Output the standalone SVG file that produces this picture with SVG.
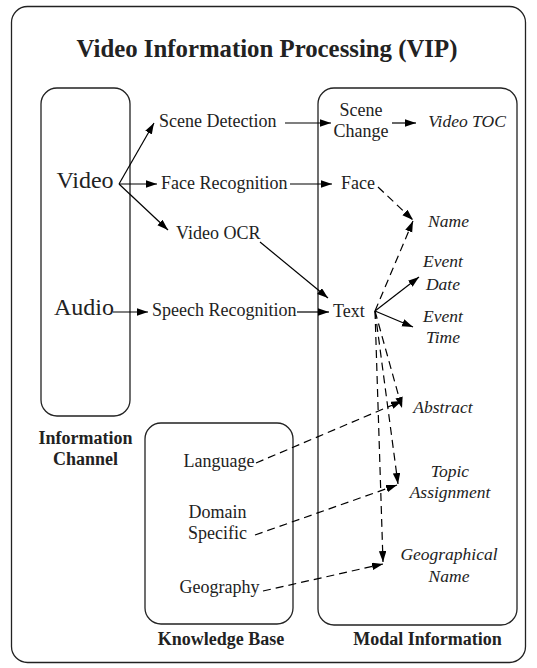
<svg xmlns="http://www.w3.org/2000/svg" width="537" height="668" viewBox="0 0 537 668">
<defs>
<marker id="ah" markerUnits="userSpaceOnUse" markerWidth="11" markerHeight="8" refX="11" refY="3.75" orient="auto">
<path d="M0,0 L11,3.75 L0,7.5 z" fill="#000"/>
</marker>
<style>
.box{fill:none;stroke:#222;stroke-width:1.3}
text{fill:#222;font-family:"Liberation Serif","Times New Roman",serif}
.n{font-size:18px}
.big{font-size:24px}
.it{font-size:17.5px;font-style:italic}
.b{font-size:18px;font-weight:bold}
.ttl{font-size:24.8px;font-weight:bold}
.c{text-anchor:middle}
.ln{fill:none;stroke:#000;stroke-width:1.2;marker-end:url(#ah)}
.d{stroke-dasharray:8 5}
</style>
</defs>
<rect class="box" x="11.5" y="6.5" width="514" height="656" rx="16"/>
<text class="ttl c" x="267" y="57">Video Information Processing (VIP)</text>

<g id="info-channel">
<rect class="box" x="41" y="88" width="89" height="328" rx="16"/>
<text class="b c" x="85.5" y="444">Information</text>
<text class="b c" x="85.5" y="465">Channel</text>
</g>
<g id="knowledge-base">
<rect class="box" x="145" y="423" width="148" height="201" rx="16"/>
<text class="b c" x="221" y="645" font-size="19">Knowledge Base</text>
</g>
<g id="modal-info">
<rect class="box" x="318" y="88" width="199" height="537" rx="16"/>
<text class="b c" x="427.5" y="645">Modal Information</text>
</g>

<g id="video"><text class="big c" x="85" y="188">Video</text></g>
<g id="audio"><text class="big c" x="84" y="315">Audio</text></g>
<g id="scene-detection"><text class="n" x="159" y="127">Scene Detection</text></g>
<g id="face-recognition"><text class="n" x="161" y="189">Face Recognition</text></g>
<g id="video-ocr"><text class="n" x="176" y="239">Video OCR</text></g>
<g id="speech-recognition"><text class="n" x="152" y="316">Speech Recognition</text></g>
<g id="scene-change"><text class="n c" x="361" y="116">Scene</text><text class="n c" x="361" y="137">Change</text></g>
<g id="video-toc"><text class="it c" x="467" y="127">Video TOC</text></g>
<g id="face"><text class="n" x="341" y="189">Face</text></g>
<g id="name"><text class="it c" x="448.5" y="227">Name</text></g>
<g id="text"><text class="n" x="333" y="317">Text</text></g>
<g id="event-date"><text class="it c" x="443" y="267">Event</text><text class="it c" x="443" y="290">Date</text></g>
<g id="event-time"><text class="it c" x="443" y="322">Event</text><text class="it c" x="443" y="343">Time</text></g>
<g id="abstract"><text class="it c" x="443" y="413">Abstract</text></g>
<g id="topic-assignment"><text class="it c" x="450" y="477">Topic</text><text class="it c" x="450" y="498">Assignment</text></g>
<g id="geographical-name"><text class="it c" x="449" y="560">Geographical</text><text class="it c" x="449" y="582">Name</text></g>
<g id="language"><text class="n c" x="219" y="467">Language</text></g>
<g id="domain-specific"><text class="n c" x="217.5" y="518">Domain</text><text class="n c" x="217.5" y="539">Specific</text></g>
<g id="geography"><text class="n c" x="219.5" y="593">Geography</text></g>

<g id="connectors">
<line class="ln" x1="119" y1="184" x2="154" y2="123"/>
<line class="ln" x1="119" y1="184" x2="157" y2="184"/>
<line class="ln" x1="119" y1="184" x2="168" y2="230"/>
<line class="ln" x1="113" y1="312" x2="148" y2="312"/>
<line class="ln" x1="285" y1="123" x2="331" y2="123"/>
<line class="ln" x1="392" y1="123" x2="416" y2="123"/>
<line class="ln" x1="290" y1="184" x2="332" y2="184"/>
<line class="ln" x1="260" y1="242" x2="328" y2="298"/>
<line class="ln" x1="297" y1="312" x2="329" y2="312"/>
<line class="ln" x1="375" y1="311" x2="419" y2="277"/>
<line class="ln" x1="375" y1="311" x2="413" y2="327"/>
<line class="ln d" x1="378" y1="187" x2="413" y2="220"/>
<line class="ln d" x1="375" y1="311" x2="413" y2="221"/>
<line class="ln d" x1="375" y1="311" x2="402" y2="408"/>
<line class="ln d" x1="375" y1="311" x2="398" y2="484"/>
<line class="ln d" x1="375" y1="311" x2="383" y2="562"/>
<line class="ln d" x1="256" y1="463" x2="402" y2="401"/>
<line class="ln d" x1="255" y1="535" x2="397" y2="485"/>
<line class="ln d" x1="263" y1="591" x2="383" y2="564"/>
</g>
</svg>
